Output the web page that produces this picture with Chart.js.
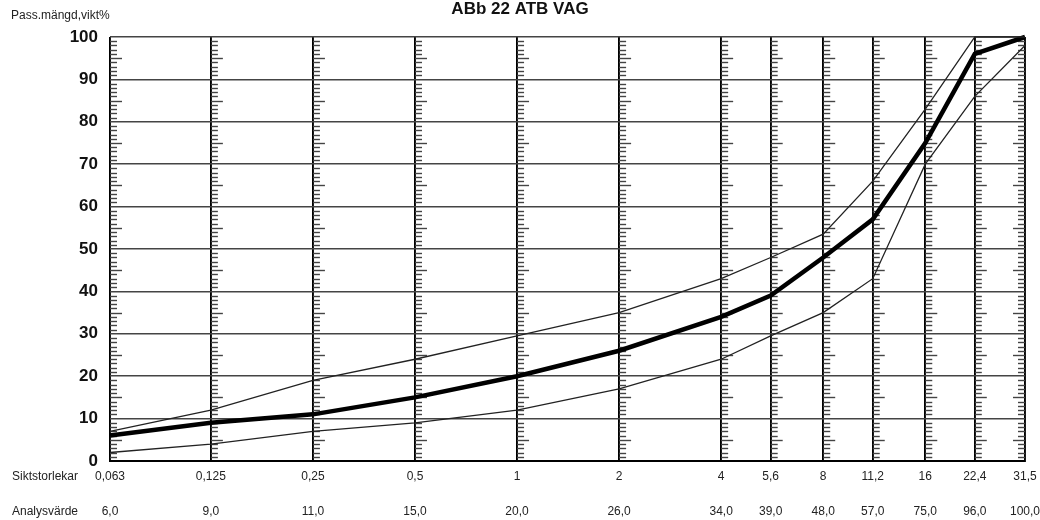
<!DOCTYPE html>
<html>
<head>
<meta charset="utf-8">
<script src="https://cdn.jsdelivr.net/npm/chart.js@4"></script>
<style>
html,body{margin:0;padding:0;background:#fff;}
#wrap{width:1040px;height:520px;position:relative;}
</style>
</head>
<body>
<div id="wrap"><canvas id="kurva"></canvas></div>
<script>
// siktstorlekar (mm) och passerande mängd, vikt%
const SIKTAR=[0.063,0.125,0.25,0.5,1,2,4,5.6,8,11.2,16,22.4,31.5];
const SIKT_ETIKETTER=['0,063','0,125','0,25','0,5','1','2','4','5,6','8','11,2','16','22,4','31,5'];
const ANALYS=[6,9,11,15,20,26,34,39,48,57,75,96,100];
const ANALYS_ETIKETTER=['6,0','9,0','11,0','15,0','20,0','26,0','34,0','39,0','48,0','57,0','75,0','96,0','100,0'];
const OVRE_GRANS=[7,12,19,24,29.5,35,43,48,53.5,66,83,100,100];
const UNDRE_GRANS=[2,4,7,9,12,17,24,29.5,35,43,70,86,98];
const Y_TICKS=[0,10,20,30,40,50,60,70,80,90,100];

const FONT='"Liberation Sans", Arial, sans-serif';
const punkter=(v)=>SIKTAR.map(function(s,i){return {x:s,y:v[i]};});

// små skalstreck längs varje siktlinje
const skalstreck={
  id:'skalstreck',
  beforeDatasetsDraw:function(chart){
    const ctx=chart.ctx,x=chart.scales.x,y=chart.scales.y;
    ctx.save();
    ctx.strokeStyle='#444';
    ctx.lineWidth=1.4;
    SIKTAR.forEach(function(s,i){
      const px=x.getPixelForValue(s);
      const dir=i===SIKTAR.length-1?-1:1;
      for(let v=1;v<100;v++){
        if(v%10===0) continue;
        const len=v%5===0?12:7;
        const py=Math.round(y.getPixelForValue(v))+0.5;
        ctx.beginPath();
        ctx.moveTo(px,py);
        ctx.lineTo(px+dir*len,py);
        ctx.stroke();
      }
    });
    ctx.restore();
  }
};

// radrubriker och y-axelns text
const rubriker={
  id:'rubriker',
  afterDraw:function(chart){
    const ctx=chart.ctx;
    ctx.save();
    ctx.font='12px '+FONT;
    ctx.fillStyle='#222';
    ctx.textAlign='left';
    ctx.textBaseline='middle';
    ctx.fillText('Pass.mängd,vikt%',11,16);
    ctx.fillText('Siktstorlekar',12,chart.scales.x.top+8+7.2);
    ctx.fillText('Analysvärde',12,chart.scales.x2.top+20+7.2);
    ctx.restore();
  }
};

const utanSidoutfyllnad=function(s,h){s.height=h;s.paddingLeft=0;s.paddingRight=0;};

const ctx=document.getElementById('kurva').getContext('2d');
new Chart(ctx,{
  type:'line',
  data:{datasets:[
    {label:'Övre gräns',data:punkter(OVRE_GRANS),borderColor:'#222',borderWidth:1.3,pointRadius:0,tension:0,clip:8},
    {label:'Undre gräns',data:punkter(UNDRE_GRANS),borderColor:'#222',borderWidth:1.3,pointRadius:0,tension:0,clip:8},
    {label:'Analysvärde',data:punkter(ANALYS),borderColor:'#000',borderWidth:4.5,pointRadius:0,tension:0,clip:8}
  ]},
  options:{
    responsive:true,maintainAspectRatio:false,animation:false,
    layout:{padding:{left:15,right:15,top:0,bottom:0}},
    plugins:{
      legend:{display:false},
      tooltip:{enabled:false},
      title:{display:true,text:'ABb 22 ATB VAG',color:'#111',font:{family:FONT,size:17,weight:'bold',lineHeight:1},padding:{top:1,bottom:19}}
    },
    scales:{
      x:{
        type:'logarithmic',position:'bottom',min:0.063,max:31.5,
        afterBuildTicks:function(s){s.ticks=SIKTAR.map(function(v){return {value:v};});},
        afterFit:function(s){utanSidoutfyllnad(s,23);},
        grid:{color:'#000',lineWidth:1.9,drawTicks:false},
        border:{display:true,color:'#000',width:2},
        ticks:{autoSkip:false,maxRotation:0,padding:8,color:'#222',font:{family:FONT,size:12},
          callback:function(v,i){return SIKT_ETIKETTER[i];}}
      },
      x2:{
        type:'logarithmic',position:'bottom',display:true,min:0.063,max:31.5,
        afterBuildTicks:function(s){s.ticks=SIKTAR.map(function(v){return {value:v};});},
        afterFit:function(s){utanSidoutfyllnad(s,36);},
        grid:{display:false,drawTicks:false},
        border:{display:false},
        ticks:{autoSkip:false,maxRotation:0,padding:20,color:'#222',font:{family:FONT,size:12},
          callback:function(v,i){return ANALYS_ETIKETTER[i];}}
      },
      y:{
        min:0,max:100,
        afterBuildTicks:function(s){s.ticks=Y_TICKS.map(function(v){return {value:v};});},
        afterFit:function(s){s.width=95;},
        grid:{color:'#444',lineWidth:1.5,drawTicks:false},
        border:{display:false},
        ticks:{padding:12,color:'#111',font:{family:FONT,size:17,weight:'bold'}}
      }
    }
  },
  plugins:[skalstreck,rubriker]
});
</script>
</body>
</html>
